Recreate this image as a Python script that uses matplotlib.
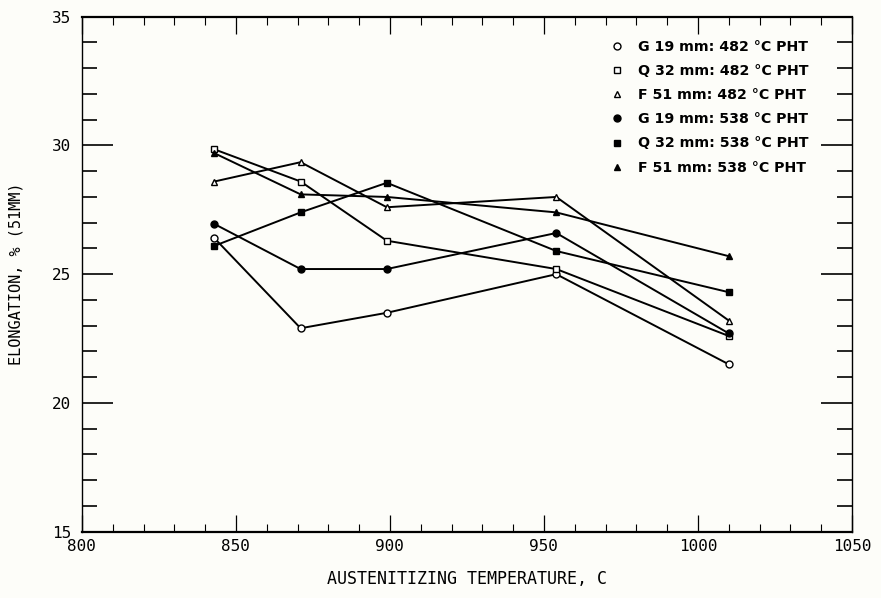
import matplotlib
matplotlib.use("Agg")
import matplotlib.pyplot as plt
from matplotlib.ticker import MultipleLocator

temps = [843, 871, 899, 954, 1010]
g19_482 = [26.4, 22.9, 23.5, 25.0, 21.5]
q32_482 = [29.85, 28.6, 26.3, 25.2, 22.6]
f51_482 = [28.6, 29.35, 27.6, 28.0, 23.2]
g19_538 = [26.95, 25.2, 25.2, 26.6, 22.7]
q32_538 = [26.1, 27.4, 28.55, 25.9, 24.3]
f51_538 = [29.7, 28.1, 28.0, 27.4, 25.7]

labels = ["G 19 mm: 482 °C PHT", "Q 32 mm: 482 °C PHT", "F 51 mm: 482 °C PHT",
          "G 19 mm: 538 °C PHT", "Q 32 mm: 538 °C PHT", "F 51 mm: 538 °C PHT"]
series = [g19_482, q32_482, f51_482, g19_538, q32_538, f51_538]
markers = ["o", "s", "^", "o", "s", "^"]
filled = [False, False, False, True, True, True]

xticks = [800, 850, 900, 950, 1000, 1050]
yticks = [15, 20, 25, 30, 35]

mono = "DejaVu Sans Mono"

fig = plt.figure(figsize=(8.81, 5.98), dpi=100)
fig.patch.set_facecolor("#fdfdf9")
ax = fig.add_axes([0.093, 0.111, 0.874, 0.861])
ax.set_facecolor("#fdfdf9")

for ys, lab, m, f in zip(series, labels, markers, filled):
    ax.plot(temps, ys, color="black", lw=1.4, marker=m, markersize=5,
            markerfacecolor="black" if f else "white", markeredgecolor="black",
            markeredgewidth=1.0, label=lab)

ax.set_xlim(800, 1050)
ax.set_ylim(15, 35)
ax.set_xticks(xticks)
ax.set_yticks(yticks)
ax.xaxis.set_minor_locator(MultipleLocator(10))
ax.yaxis.set_minor_locator(MultipleLocator(1))
ax.set_xticklabels([str(v) for v in xticks], family=mono, fontsize=11.5)
ax.set_yticklabels([str(v) for v in yticks], family=mono, fontsize=11.5)
ax.tick_params(axis="y", which="major", direction="in", length=22, width=1.2,
               left=True, right=True, pad=8)
ax.tick_params(axis="y", which="minor", direction="in", length=11, width=1.2,
               left=True, right=True)
ax.tick_params(axis="x", which="major", direction="in", length=12, width=0.9,
               top=True, bottom=True, pad=5)
ax.tick_params(axis="x", which="minor", direction="in", length=6, width=0.8,
               top=True, bottom=True)
for s in ax.spines.values():
    s.set_linewidth(1.0)
ax.spines["bottom"].set_linewidth(1.6)
ax.spines["top"].set_linewidth(1.6)

ax.set_xlabel("AUSTENITIZING TEMPERATURE, C", family=mono,
              fontsize=12, labelpad=12)
ax.set_ylabel("ELONGATION, % (51MM)", family=mono,
              fontsize=11, labelpad=20)

leg = ax.legend(loc="upper right", bbox_to_anchor=(0.955, 0.972), frameon=False,
                prop={"family": "DejaVu Sans", "weight": "bold", "size": 10.2},
                handlelength=0.6, handletextpad=1.2, labelspacing=0.72,
                borderaxespad=0.2)
for h in leg.legend_handles:
    h.set_linestyle("None")

fig.savefig("out.png", dpi=100, facecolor=fig.get_facecolor())
